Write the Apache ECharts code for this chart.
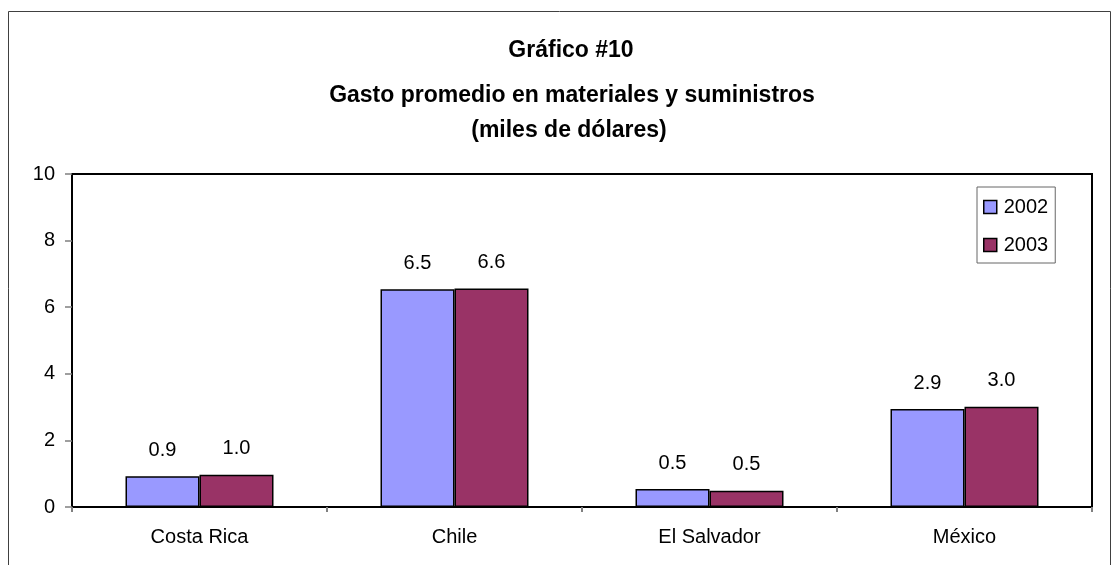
<!DOCTYPE html>
<html>
<head>
<meta charset="utf-8">
<script src="https://cdn.jsdelivr.net/npm/echarts@6/dist/echarts.min.js"></script>
<style>
	html, body { margin: 0; padding: 0; background: #fff; }
	#chart { width: 1112px; height: 565px; }
</style>
</head>
<body>
<div id="chart"></div>
<script>
	// datos
	var paises = ['Costa Rica', 'Chile', 'El Salvador', 'México'];
	var gasto2002 = [0.92, 6.54, 0.54, 2.94];
	var gasto2003 = [0.97, 6.56, 0.49, 3.01];
	var anios = ['2002', '2003'];
	var colores = ['#9999ff', '#993366'];

	var fuente = 'Liberation Sans, Arial, sans-serif';

	function crearSerie(name, data, color) {
		return {
			name: name,
			type: 'bar',
			data: data,
			barWidth: 74,
			barGap: '0%',
			itemStyle: {
				color: color,
				borderColor: '#000',
				borderWidth: 1.5
			},
			label: {
				show: true,
				position: 'top',
				distance: 16,
				color: '#000',
				fontFamily: fuente,
				fontSize: 20,
				formatter: function(p) {
					return p.value.toFixed(1);
				}
			},
			animation: false
		};
	}

	var estiloTitulo = { fontFamily: fuente, fontSize: 23, fontWeight: 'bold', color: '#000' };

	var chart = echarts.init(document.getElementById('chart'));
	chart.setOption({
		backgroundColor: '#fff',
		title: [{
			text: 'Gráfico #10',
			left: 566, top: 34, textAlign: 'center',
			textStyle: estiloTitulo
		}, {
			text: 'Gasto promedio en materiales y suministros',
			left: 567, top: 79, textAlign: 'center',
			textStyle: estiloTitulo
		}, {
			text: '(miles de dólares)',
			left: 564, top: 114, textAlign: 'center',
			textStyle: estiloTitulo
		}],
		graphic: [{
			type: 'rect',
			shape: { x: 8.5, y: 11.5, width: 1102, height: 600 },
			style: { fill: 'none', stroke: '#404040', lineWidth: 1 },
			silent: true
		}],
		legend: {
			data: anios,
			orient: 'vertical',
			left: 977, top: 187,
			padding: [10, 7, 8, 6],
			itemGap: 18,
			itemWidth: 13, itemHeight: 13,
			icon: 'rect',
			borderColor: '#666',
			borderWidth: 1,
			textStyle: { fontFamily: fuente, fontSize: 20, color: '#000', padding: [0, 0, 0, 2] },
			itemStyle: { borderColor: '#000', borderWidth: 1.5 }
		},
		grid: {
			left: 72, top: 174, right: 20, bottom: 58,
			show: true,
			borderColor: '#000',
			borderWidth: 2,
			backgroundColor: 'transparent'
		},
		xAxis: {
			type: 'category',
			data: paises,
			axisLine: { lineStyle: { color: '#000', width: 2 } },
			axisTick: { show: true, length: 5, lineStyle: { color: '#808080', width: 2 } },
			axisLabel: { margin: 20, color: '#000', fontFamily: fuente, fontSize: 20 }
		},
		yAxis: {
			type: 'value',
			min: 0, max: 10, interval: 2,
			axisLine: { show: true, lineStyle: { color: '#000', width: 2 } },
			axisTick: { show: true, length: 7, lineStyle: { color: '#808080', width: 1.5 } },
			splitLine: { show: false },
			axisLabel: { margin: 17, color: '#000', fontFamily: fuente, fontSize: 20 }
		},
		series: [
			crearSerie(anios[0], gasto2002, colores[0]),
			crearSerie(anios[1], gasto2003, colores[1])
		]
	});
</script>
</body>
</html>
